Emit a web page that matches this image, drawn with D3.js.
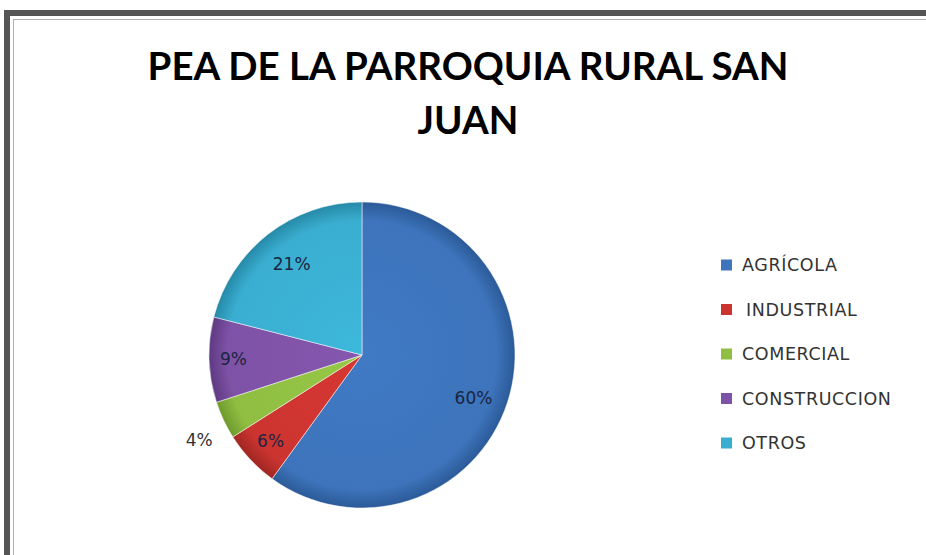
<!DOCTYPE html>
<html>
<head>
<meta charset="utf-8">
<script src="https://cdn.jsdelivr.net/npm/d3@7"></script>
<style>
  body { margin: 0; background: #fff; }
</style>
</head>
<body>
<div id="chart"></div>
<script>
// data
var categories = ["AGRÍCOLA", "INDUSTRIAL", "COMERCIAL", "CONSTRUCCION", "OTROS"];
var values = [60, 6, 4, 9, 21];
var labels = ["60%", "6%", "4%", "9%", "21%"];
var colores = ["#3d74bb", "#cc3430", "#8fbe42", "#7e52a6", "#3aaed0"];
var bordes = ["#2b5a98", "#a02622", "#6f9a2c", "#5e3a82", "#2689a8"];

var width = 926, height = 555;
var svg = d3.select("#chart")
  .append("svg")
    .attr("width", width)
    .attr("height", height);

// frame
svg.append("rect")
  .attr("x", 7).attr("y", 13)
  .attr("width", 940).attr("height", 560)
  .style("fill", "#fff")
  .style("stroke", "#555")
  .style("stroke-width", 6);
svg.append("rect")
  .attr("x", 13.5).attr("y", 19.5)
  .attr("width", 930).attr("height", 560)
  .style("fill", "none")
  .style("stroke", "#b0b0b0")
  .style("stroke-width", 1);

// title
var title = svg.append("text")
  .attr("text-anchor", "middle")
  .style("font-family", "Lato, 'Open Sans', sans-serif")
  .style("font-weight", "bold")
  .style("font-size", "38.5px")
  .style("fill", "#000");
title.append("tspan").attr("x", 468).attr("y", 80).text("PEA DE LA PARROQUIA RURAL SAN");
title.append("tspan").attr("x", 468).attr("y", 134).text("JUAN");

var cx = 362, cy = 355, radius = 153;

// gradients like the office shading
var defs = svg.append("defs");
colores.forEach(function(c, i) {
  var gr = defs.append("radialGradient")
    .attr("id", "grad" + i)
    .attr("gradientUnits", "userSpaceOnUse")
    .attr("cx", 0).attr("cy", 0).attr("r", radius);
  gr.append("stop").attr("offset", "0%").attr("stop-color", d3.color(c).brighter(0.15));
  gr.append("stop").attr("offset", "88%").attr("stop-color", c);
  gr.append("stop").attr("offset", "100%").attr("stop-color", bordes[i]);
});

var pie = d3.pie().sort(null).value(function(d) { return d; });
var arcs = pie(values);
var arc = d3.arc().innerRadius(0).outerRadius(radius);

var g = svg.append("g").attr("transform", "translate(" + cx + "," + cy + ")");
g.selectAll("path")
  .data(arcs)
  .enter()
  .append("path")
    .attr("d", arc)
    .style("fill", function(d, i) { return "url(#grad" + i + ")"; })
    .style("stroke", "#fff")
    .style("stroke-width", 0.5);

// label radius as fraction of the pie radius (4% sits outside)
var labelR = [0.78, 0.82, 1.2, 0.84, 0.75];
var labelShift = [0.05, 0, -0.04, 0, 0];
g.selectAll(".lbl")
  .data(arcs)
  .enter()
  .append("text")
    .attr("class", "lbl")
    .attr("transform", function(d, i) {
      var a = (d.startAngle + d.endAngle) / 2 + labelShift[i];
      var r = radius * labelR[i];
      return "translate(" + (Math.sin(a) * r) + "," + (-Math.cos(a) * r) + ")";
    })
    .attr("text-anchor", "middle")
    .attr("dy", "0.36em")
    .style("font-family", "'DejaVu Sans', Verdana, sans-serif")
    .style("font-size", "17px")
    .style("fill", function(d, i) { return i == 2 ? "#333" : "#1a2540"; })
    .text(function(d, i) { return labels[i]; });

// legend
var legend = svg.append("g").attr("transform", "translate(721,265)");
var item = legend.selectAll("g")
  .data(categories)
  .enter()
  .append("g")
    .attr("transform", function(d, i) { return "translate(0," + (i * 44.5) + ")"; });
item.append("rect")
  .attr("x", 0).attr("y", -5.5)
  .attr("width", 11).attr("height", 11)
  .style("fill", function(d, i) { return colores[i]; });
item.append("text")
  .attr("x", function(d, i) { return i == 1 ? 25 : 21; })
  .attr("dy", "0.36em")
  .style("font-family", "'DejaVu Sans', Verdana, sans-serif")
  .style("font-size", "17.5px")
  .style("letter-spacing", "0.6px")
  .style("fill", "#333")
  .text(function(d) { return d; });
</script>
</body>
</html>
